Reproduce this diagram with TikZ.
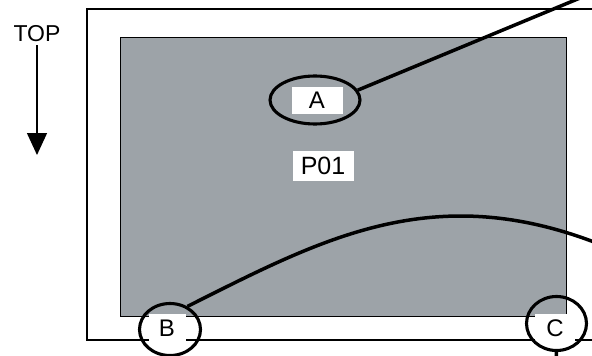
\documentclass[tikz,border=0pt]{standalone}
\usepackage{fontspec}
\setmainfont{Liberation Sans}
\usetikzlibrary{arrows.meta,shapes.geometric}
\definecolor{panelgray}{RGB}{157,163,168}
\tikzset{
  tag/.style={fill=white, inner sep=0pt, font=\fontsize{24}{28}\selectfont},
  ring/.style={draw, ellipse, line width=3.1pt, inner sep=0pt},
  lead/.style={line width=3.5pt},
}
\begin{document}
\begin{tikzpicture}[x=1pt,y=-1pt]
  \useasboundingbox (0,0) rectangle (592,356);
  \clip (0,0) rectangle (592,356);
  % orientation marker
  \node[font=\fontsize{23}{27}\selectfont, inner sep=3pt] (top) at (37,34) {TOP};
  \coordinate (arrowend) at (39,155);
  \draw[line width=1.4pt, -{Triangle[width=20pt,length=22pt]}] (top.south) -- (top.south |- arrowend);
  % outer frame and grey panel
  \draw[line width=1.5pt] (87,9) rectangle (612,340);
  \draw[fill=panelgray, line width=1pt] (120,37) rectangle (566,316);
  % labels
  \node[tag, minimum width=51pt, minimum height=27pt] (labA) at (317,100) {A};
  \node[tag, minimum width=61pt, minimum height=30pt, font=\fontsize{25}{28}\selectfont] (labP) at (323,166) {P01};
  \node[tag, minimum width=37pt, minimum height=28pt] (labB) at (167,328) {B};
  \node[tag, minimum width=40pt, minimum height=28pt] (labC) at (555,328) {C};
  % marked spots
  \node[ring, minimum width=90pt, minimum height=48pt] (ringA) at (315,100) {};
  \node[ring, minimum width=61pt, minimum height=52pt] (ringB) at (170,329.5) {};
  \node[ring, minimum width=60pt, minimum height=54pt] (ringC) at (556.5,323.5) {};
  % leads running off the sheet
  \coordinate (exitA) at (580,-2);
  \coordinate (exitB) at (594,242);
  \coordinate (exitC) at (556,362);
  \draw[lead] (ringA.13) -- (exitA);
  \draw[lead] (ringB.53) .. controls (320,240) and (430,180) .. (exitB);
  \draw[lead] (ringC.south) -- (exitC);
\end{tikzpicture}
\end{document}
